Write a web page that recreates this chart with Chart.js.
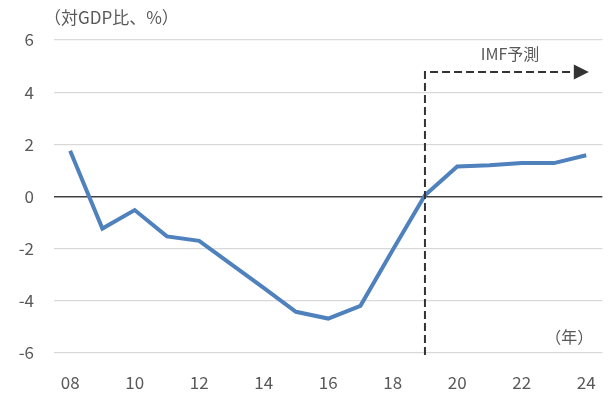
<!DOCTYPE html>
<html>
<head>
<meta charset="utf-8">
<script src="https://cdn.jsdelivr.net/npm/chart.js@4/dist/chart.umd.min.js"></script>
<style>
  html, body { margin: 0; padding: 0; background: #ffffff; }
  #wrap { width: 615px; height: 394px; position: relative; }
</style>
</head>
<body>
<div id="wrap"><canvas id="c" width="615" height="394"></canvas></div>
<script>
// Fiscal balance, % of GDP (2008–2024; 2019 onward is the IMF projection)
const years = ['08','09','10','11','12','13','14','15','16','17','18','19','20','21','22','23','24'];
const balance = [1.75, -1.23, -0.52, -1.53, -1.70, -2.6, -3.5, -4.42, -4.68, -4.19, -2.05, 0.05, 1.15, 1.2, 1.28, 1.28, 1.58];
const yTicks = [-6, -4, -2, 0, 2, 4, 6];

const unitLabel = '（対GDP比、%）';
const yearLabel = '（年）';
const forecastLabel = 'IMF予測';
const forecastStart = '19';   // first projected year
const forecastLevel = 4.77;   // height of the projection arrow
const arrowEnd = 16.08;       // category index where the arrow tip sits

const FONT = "'Noto Sans CJK JP', 'DejaVu Sans', sans-serif";
const GRAY = '#595959';

const overlay = {
  id: 'overlay',
  afterDatasetsDraw(chart) {
    const { ctx, scales: { x, y }, chartArea } = chart;
    ctx.save();

    // projection marker: vertical dashed line + dashed arrow
    const x0 = x.getPixelForValue(years.indexOf(forecastStart));
    const yTop = y.getPixelForValue(forecastLevel);
    const xTip = x.getPixelForValue(arrowEnd);
    ctx.strokeStyle = '#333333';
    ctx.lineWidth = 2;
    ctx.setLineDash([8, 4]);
    ctx.beginPath();
    ctx.moveTo(x0, chartArea.bottom + 2);
    ctx.lineTo(x0, yTop);
    ctx.lineTo(xTip - 14, yTop);
    ctx.stroke();
    ctx.setLineDash([]);
    ctx.fillStyle = '#333333';
    ctx.beginPath();
    ctx.moveTo(xTip, yTop);
    ctx.lineTo(xTip - 15, yTop - 7.5);
    ctx.lineTo(xTip - 15, yTop + 7.5);
    ctx.closePath();
    ctx.fill();

    // texts
    ctx.fillStyle = GRAY;
    ctx.textBaseline = 'middle';
    ctx.font = '16px ' + FONT;
    ctx.textAlign = 'center';
    ctx.fillText(forecastLabel, 510, yTop - 18);
    ctx.textAlign = 'right';
    ctx.fillText(yearLabel, chartArea.right - 9, y.getPixelForValue(-5.4));
    ctx.font = '17px ' + FONT;
    ctx.textAlign = 'left';
    ctx.fillText(unitLabel, 44, 18);
    ctx.restore();
  }
};

new Chart(document.getElementById('c'), {
  type: 'line',
  data: {
    labels: years,
    datasets: [{
      data: balance,
      borderColor: '#4F81BD',
      borderWidth: 4,
      pointRadius: 0,
      tension: 0,
      fill: false
    }]
  },
  options: {
    responsive: false,
    animation: false,
    layout: { padding: { top: 40, right: 11, left: 0, bottom: 0 } },
    plugins: { legend: { display: false }, tooltip: { enabled: false }, title: { display: false } },
    scales: {
      x: {
        offset: true,
        grid: { display: false, drawTicks: false },
        border: { display: false },
        ticks: {
          color: GRAY,
          font: { family: FONT, size: 17 },
          padding: 19,
          maxRotation: 0,
          autoSkip: false,
          callback: (v, i) => (i % 2 === 0 ? years[i] : '')
        },
        afterFit: (s) => { s.height = 41; }
      },
      y: {
        min: -6,
        max: 6,
        afterBuildTicks: (s) => { s.ticks = yTicks.map(v => ({ value: v })); },
        grid: {
          drawTicks: false,
          color: (c) => (c.tick && c.tick.value === 0 ? '#404040' : '#D9D9D9'),
          lineWidth: (c) => (c.tick && c.tick.value === 0 ? 1.5 : 1.2)
        },
        border: { display: false },
        ticks: {
          color: GRAY,
          font: { family: FONT, size: 17 },
          padding: 20
        },
        afterFit: (s) => { s.width = 54; }
      }
    }
  },
  plugins: [overlay]
});
</script>
</body>
</html>
